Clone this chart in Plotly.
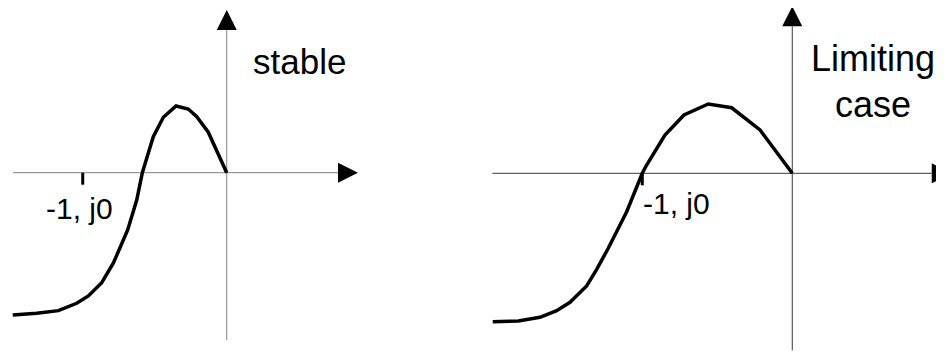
import plotly.graph_objects as go
from plotly.subplots import make_subplots

# ---- data (Nyquist-like curves, real/imag units; -1 point at x=-1) ----
stable_re = [-1.486, -1.319, -1.169, -1.042, -0.961, -0.868, -0.788, -0.688, -0.625,
             -0.586, -0.563, -0.510, -0.440, -0.352, -0.267, -0.208, -0.128, 0.0]
stable_im = [-0.988, -0.976, -0.958, -0.907, -0.856, -0.764, -0.629, -0.398, -0.190,
             0.0, 0.076, 0.250, 0.385, 0.463, 0.442, 0.389, 0.281, 0.0]

limit_re = [-1.997, -1.827, -1.682, -1.571, -1.482, -1.371, -1.304, -1.227, -1.104,
            -1.0, -0.971, -0.849, -0.722, -0.560, -0.404, -0.215, 0.0]
limit_im = [-0.989, -0.985, -0.960, -0.916, -0.860, -0.751, -0.640, -0.500, -0.256,
            0.0, 0.055, 0.255, 0.389, 0.462, 0.437, 0.289, 0.0]

critical_point = -1.0
point_label = "-1, j0"
panel_titles = ["stable", ["Limiting", "case"]]

# axis extents (data units) for each panel: (x_start, x_end_of_line, y_bottom, y_end_of_line)
panel_axes = [(-1.484, 0.773, -1.162, 0.991),
              (-2.0, 0.93, -1.18, 0.98)]
# ranges compensate for the 8px default page margin
panel_ranges = [((-1.519, 1.759), (-1.294, 1.144)),
                ((-2.082, 1.065), (-1.238, 1.102))]
px_per_unit = [144.0, 150.0]
axis_colors = ["#808080", "#3a3a3a"]

W, H = 944, 351
fig = make_subplots(rows=1, cols=2, horizontal_spacing=0)
fig.update_layout(width=W, height=H, margin=dict(l=0, r=0, t=0, b=0),
                  paper_bgcolor="white", plot_bgcolor="white", showlegend=False)

font_family = "Liberation Sans, Arial, sans-serif"

curves = [(stable_re, stable_im), (limit_re, limit_im)]
shapes = []
annotations = []
for i, (re, im) in enumerate(curves):
    col = i + 1
    xr, yr = panel_ranges[i]
    s = px_per_unit[i]
    xa = "x" if i == 0 else "x2"
    ya = "y" if i == 0 else "y2"
    x0, x1, y0, y1 = panel_axes[i]
    ac = axis_colors[i]
    head = 20.0 / s
    half = 10.0 / s
    # axis lines
    shapes.append(dict(type="line", xref=xa, yref=ya, x0=x0, x1=x1, y0=0, y1=0,
                       line=dict(color=ac, width=1), layer="below"))
    shapes.append(dict(type="line", xref=xa, yref=ya, x0=0, x1=0, y0=y0, y1=y1,
                       line=dict(color=ac, width=1), layer="below"))
    # arrow heads
    shapes.append(dict(type="path", xref=xa, yref=ya,
                       path=f"M{x1},{-half} L{x1 + head},0 L{x1},{half} Z",
                       fillcolor="black", line=dict(color="black", width=0)))
    shapes.append(dict(type="path", xref=xa, yref=ya,
                       path=f"M{-half},{y1} L0,{y1 + head} L{half},{y1} Z",
                       fillcolor="black", line=dict(color="black", width=0)))
    # -1 tick
    shapes.append(dict(type="line", xref=xa, yref=ya, x0=critical_point, x1=critical_point,
                       y0=0, y1=-12.0 / s, line=dict(color="black", width=3)))

    fig.add_trace(go.Scatter(x=re, y=im, mode="lines",
                             line=dict(color="black", width=3.5),
                             hoverinfo="skip"), row=1, col=col)
    fig.update_xaxes(range=list(xr), visible=False, row=1, col=col)
    fig.update_yaxes(range=list(yr), visible=False, row=1, col=col)

# critical point labels
annotations.append(dict(xref="x", yref="y", x=-1.02, y=-0.249, text=point_label,
                        showarrow=False, xanchor="center", yanchor="middle",
                        font=dict(family=font_family, size=30, color="black")))
annotations.append(dict(xref="x2", yref="y2", x=-0.775, y=-0.202, text=point_label,
                        showarrow=False, xanchor="center", yanchor="middle",
                        font=dict(family=font_family, size=30, color="black")))
# panel titles
annotations.append(dict(xref="x", yref="y", x=0.503, y=0.773, text=panel_titles[0],
                        showarrow=False, xanchor="center", yanchor="middle",
                        font=dict(family=font_family, size=35, color="black")))
annotations.append(dict(xref="x2", yref="y2", x=0.54, y=0.767, text=panel_titles[1][0],
                        showarrow=False, xanchor="center", yanchor="middle",
                        font=dict(family=font_family, size=36, color="black")))
annotations.append(dict(xref="x2", yref="y2", x=0.54, y=0.46, text=panel_titles[1][1],
                        showarrow=False, xanchor="center", yanchor="middle",
                        font=dict(family=font_family, size=36, color="black")))

fig.update_layout(shapes=shapes, annotations=annotations)
fig.write_html("out.html")
